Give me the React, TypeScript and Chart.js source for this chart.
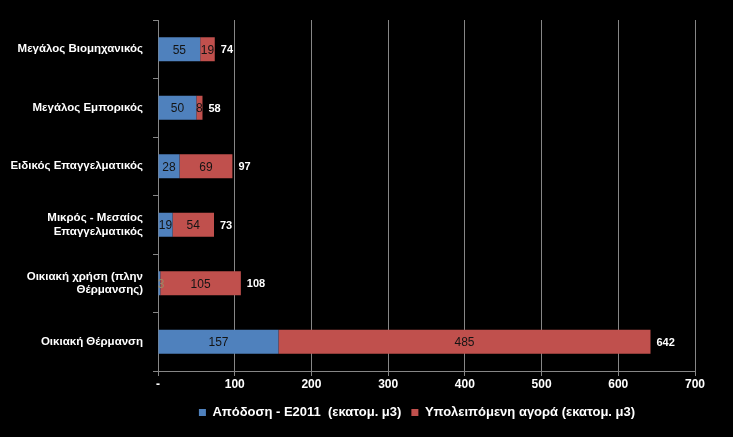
import React, { useEffect, useRef } from "react";
import { Chart, registerables } from "chart.js";
Chart.register(...registerables);

const categories: string[][] = [
  ["Μεγάλος Βιομηχανικός"],
  ["Μεγάλος Εμπορικός"],
  ["Ειδικός Επαγγελματικός"],
  ["Μικρός - Μεσαίος", "Επαγγελματικός"],
  ["Οικιακή χρήση (πλην", "Θέρμανσης)"],
  ["Οικιακή Θέρμανση"],
];
const seriesNames = ["Απόδοση - Ε2011  (εκατομ. μ3)", "Υπολειπόμενη αγορά (εκατομ. μ3)"];
const penetration = [55, 50, 28, 19, 3, 157];
const remaining = [19, 8, 69, 54, 105, 485];
const totals = [74, 58, 97, 73, 108, 642];
const xMax = 700;
const xStep = 100;

const BLUE = "#4F81BD";
const RED = "#C0504D";
const GRID = "#868686";
const FONT = "'Liberation Sans', Arial, sans-serif";

const labelPlugin = {
  id: "barLabels",
  afterLayout(chart: any) {
    const lg = chart.legend;
    if (lg) {
      const target = 417;
      const w = lg.lineWidths ? lg.lineWidths[0] : 0;
      const current = (lg.left + lg.right) / 2;
      const shift = target - current;
      lg.left += shift;
      lg.right += shift;
    }
  },
  afterDatasetsDraw(chart: any) {
    const ctx = chart.ctx;
    ctx.save();
    ctx.textBaseline = "middle";
    ctx.font = `12px ${FONT}`;
    chart.data.datasets.forEach((ds: any, i: number) => {
      const meta = chart.getDatasetMeta(i);
      meta.data.forEach((bar: any, j: number) => {
        const v = ds.data[j];
        const w = Math.abs(bar.x - bar.base);
        const cx = (bar.x + bar.base) / 2;
        ctx.textAlign = "center";
        ctx.fillStyle = w < 4 ? "#9a8a66" : "#141414";
        ctx.fillText(String(v), Math.max(cx, 161), bar.y + 1);
      });
    });
    const last = chart.getDatasetMeta(chart.data.datasets.length - 1);
    ctx.fillStyle = "#ffffff";
    ctx.textAlign = "left";
    ctx.font = `bold 11px ${FONT}`;
    last.data.forEach((bar: any, j: number) => {
      ctx.fillText(String(totals[j]), bar.x + 6, bar.y + 1);
    });
    ctx.restore();
  },
};

export default function App() {
  const ref = useRef<HTMLCanvasElement | null>(null);
  useEffect(() => {
    document.body.style.margin = "0";
    document.body.style.background = "#000";
    const chart = new Chart(ref.current!, {
      type: "bar",
      data: {
        labels: categories,
        datasets: [
          {
            label: seriesNames[0],
            data: penetration,
            backgroundColor: BLUE,
            barPercentage: 0.41,
            categoryPercentage: 1,
          },
          {
            label: seriesNames[1],
            data: remaining,
            backgroundColor: RED,
            barPercentage: 0.41,
            categoryPercentage: 1,
          },
        ],
      },
      options: {
        indexAxis: "y",
        responsive: false,
        animation: false,
        layout: { padding: { left: 0, right: 38, top: 20, bottom: 8 } },
        plugins: {
          tooltip: { enabled: false },
          legend: {
            position: "bottom",
            labels: {
              boxWidth: 7,
              boxHeight: 7,
              color: "#ffffff",
              font: { family: FONT, size: 13, weight: "bold" },
              padding: 10,
            },
          },
        },
        scales: {
          x: {
            stacked: true,
            min: 0,
            max: xMax,
            ticks: {
              stepSize: xStep,
              color: "#ffffff",
              font: { family: FONT, size: 12, weight: "bold" },
              padding: 1,
              maxRotation: 0,
              callback: (v: any) => (v === 0 ? "-" : String(v)),
            },
            grid: { color: GRID, tickLength: 5, tickColor: GRID },
            border: { color: GRID },
            afterFit: (s: any) => {
              s.height = 25;
            },
          },
          y: {
            stacked: true,
            ticks: {
              color: "#ffffff",
              font: { family: FONT, size: 11.5, weight: "bold" },
              padding: 10,
            },
            grid: { drawOnChartArea: false, tickLength: 5, color: GRID, offset: true },
            border: { color: GRID },
            afterFit: (s: any) => {
              s.width = 158;
            },
          },
        },
      },
      plugins: [labelPlugin],
    });
    return () => chart.destroy();
  }, []);
  return (
    <div style={{ width: 733, height: 437, background: "#000" }}>
      <canvas ref={ref} width={733} height={437} style={{ display: "block" }} />
    </div>
  );
}
